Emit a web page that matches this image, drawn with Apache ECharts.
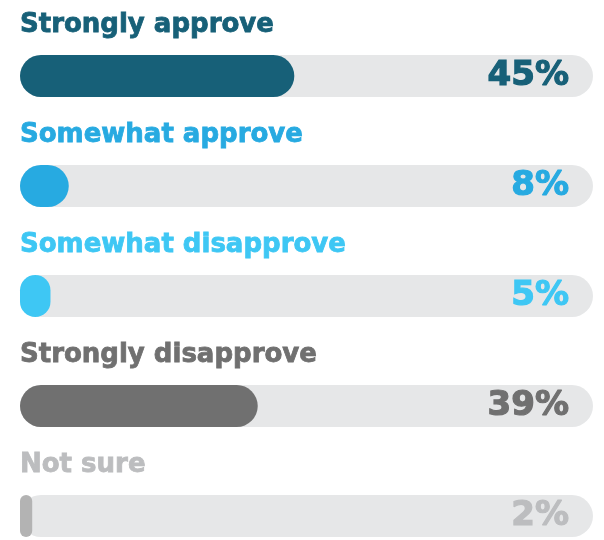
<!DOCTYPE html>
<html>
<head>
<meta charset="utf-8">
<script src="https://cdn.jsdelivr.net/npm/echarts@6/dist/echarts.min.js"></script>
<style>html,body{margin:0;padding:0;background:#fff}#c{width:604px;height:540px}</style>
</head>
<body>
<div id="c"></div>
<script>
const categories = ['Strongly approve', 'Somewhat approve', 'Somewhat disapprove', 'Strongly disapprove', 'Not sure'];
const values = [45, 8, 5, 39, 2];
const fillColors = ['#176078', '#27aae1', '#3ec7f4', '#707070', '#b3b3b3'];
const labelColors = ['#176078', '#27aae1', '#3ec7f4', '#707070', '#bcbdbf'];
const scaleMax = 94;
const FONT = 'DejaVu Sans';

const chart = echarts.init(document.getElementById('c'));
chart.setOption({
  animation: false,
  grid: { left: 20, right: 11, top: 76, bottom: 24, containLabel: false },
  xAxis: { type: 'value', min: 0, max: scaleMax, show: false },
  yAxis: { type: 'category', data: categories, inverse: true, show: false, boundaryGap: false },
  series: [
    {
      type: 'bar',
      barWidth: 42,
      silent: true,
      data: categories.map((c, i) => ({
        value: scaleMax,
        itemStyle: { color: '#e6e7e8', borderRadius: 21 },
        label: {
          show: true,
          position: [0, -30],
          align: 'left',
          verticalAlign: 'middle',
          formatter: categories[i],
          color: labelColors[i],
          textBorderColor: labelColors[i],
          textBorderWidth: 0.8,
          fontFamily: FONT,
          fontWeight: 'bold',
          fontSize: 26
        }
      }))
    },
    {
      type: 'bar',
      barWidth: 42,
      barGap: '-100%',
      silent: true,
      data: values.map((v, i) => ({
        value: v,
        itemStyle: { color: fillColors[i], borderRadius: 21 }
      }))
    },
    {
      type: 'bar',
      barWidth: 42,
      barGap: '-100%',
      silent: true,
      itemStyle: { color: 'rgba(0,0,0,0)' },
      data: values.map((v, i) => ({
        value: scaleMax,
        label: {
          show: true,
          position: 'insideRight',
          distance: 24,
          formatter: v + '%',
          color: labelColors[i],
          textBorderColor: labelColors[i],
          textBorderWidth: 1.2,
          fontFamily: FONT,
          fontWeight: 'bold',
          fontSize: 34
        }
      }))
    }
  ]
});
</script>
</body>
</html>
